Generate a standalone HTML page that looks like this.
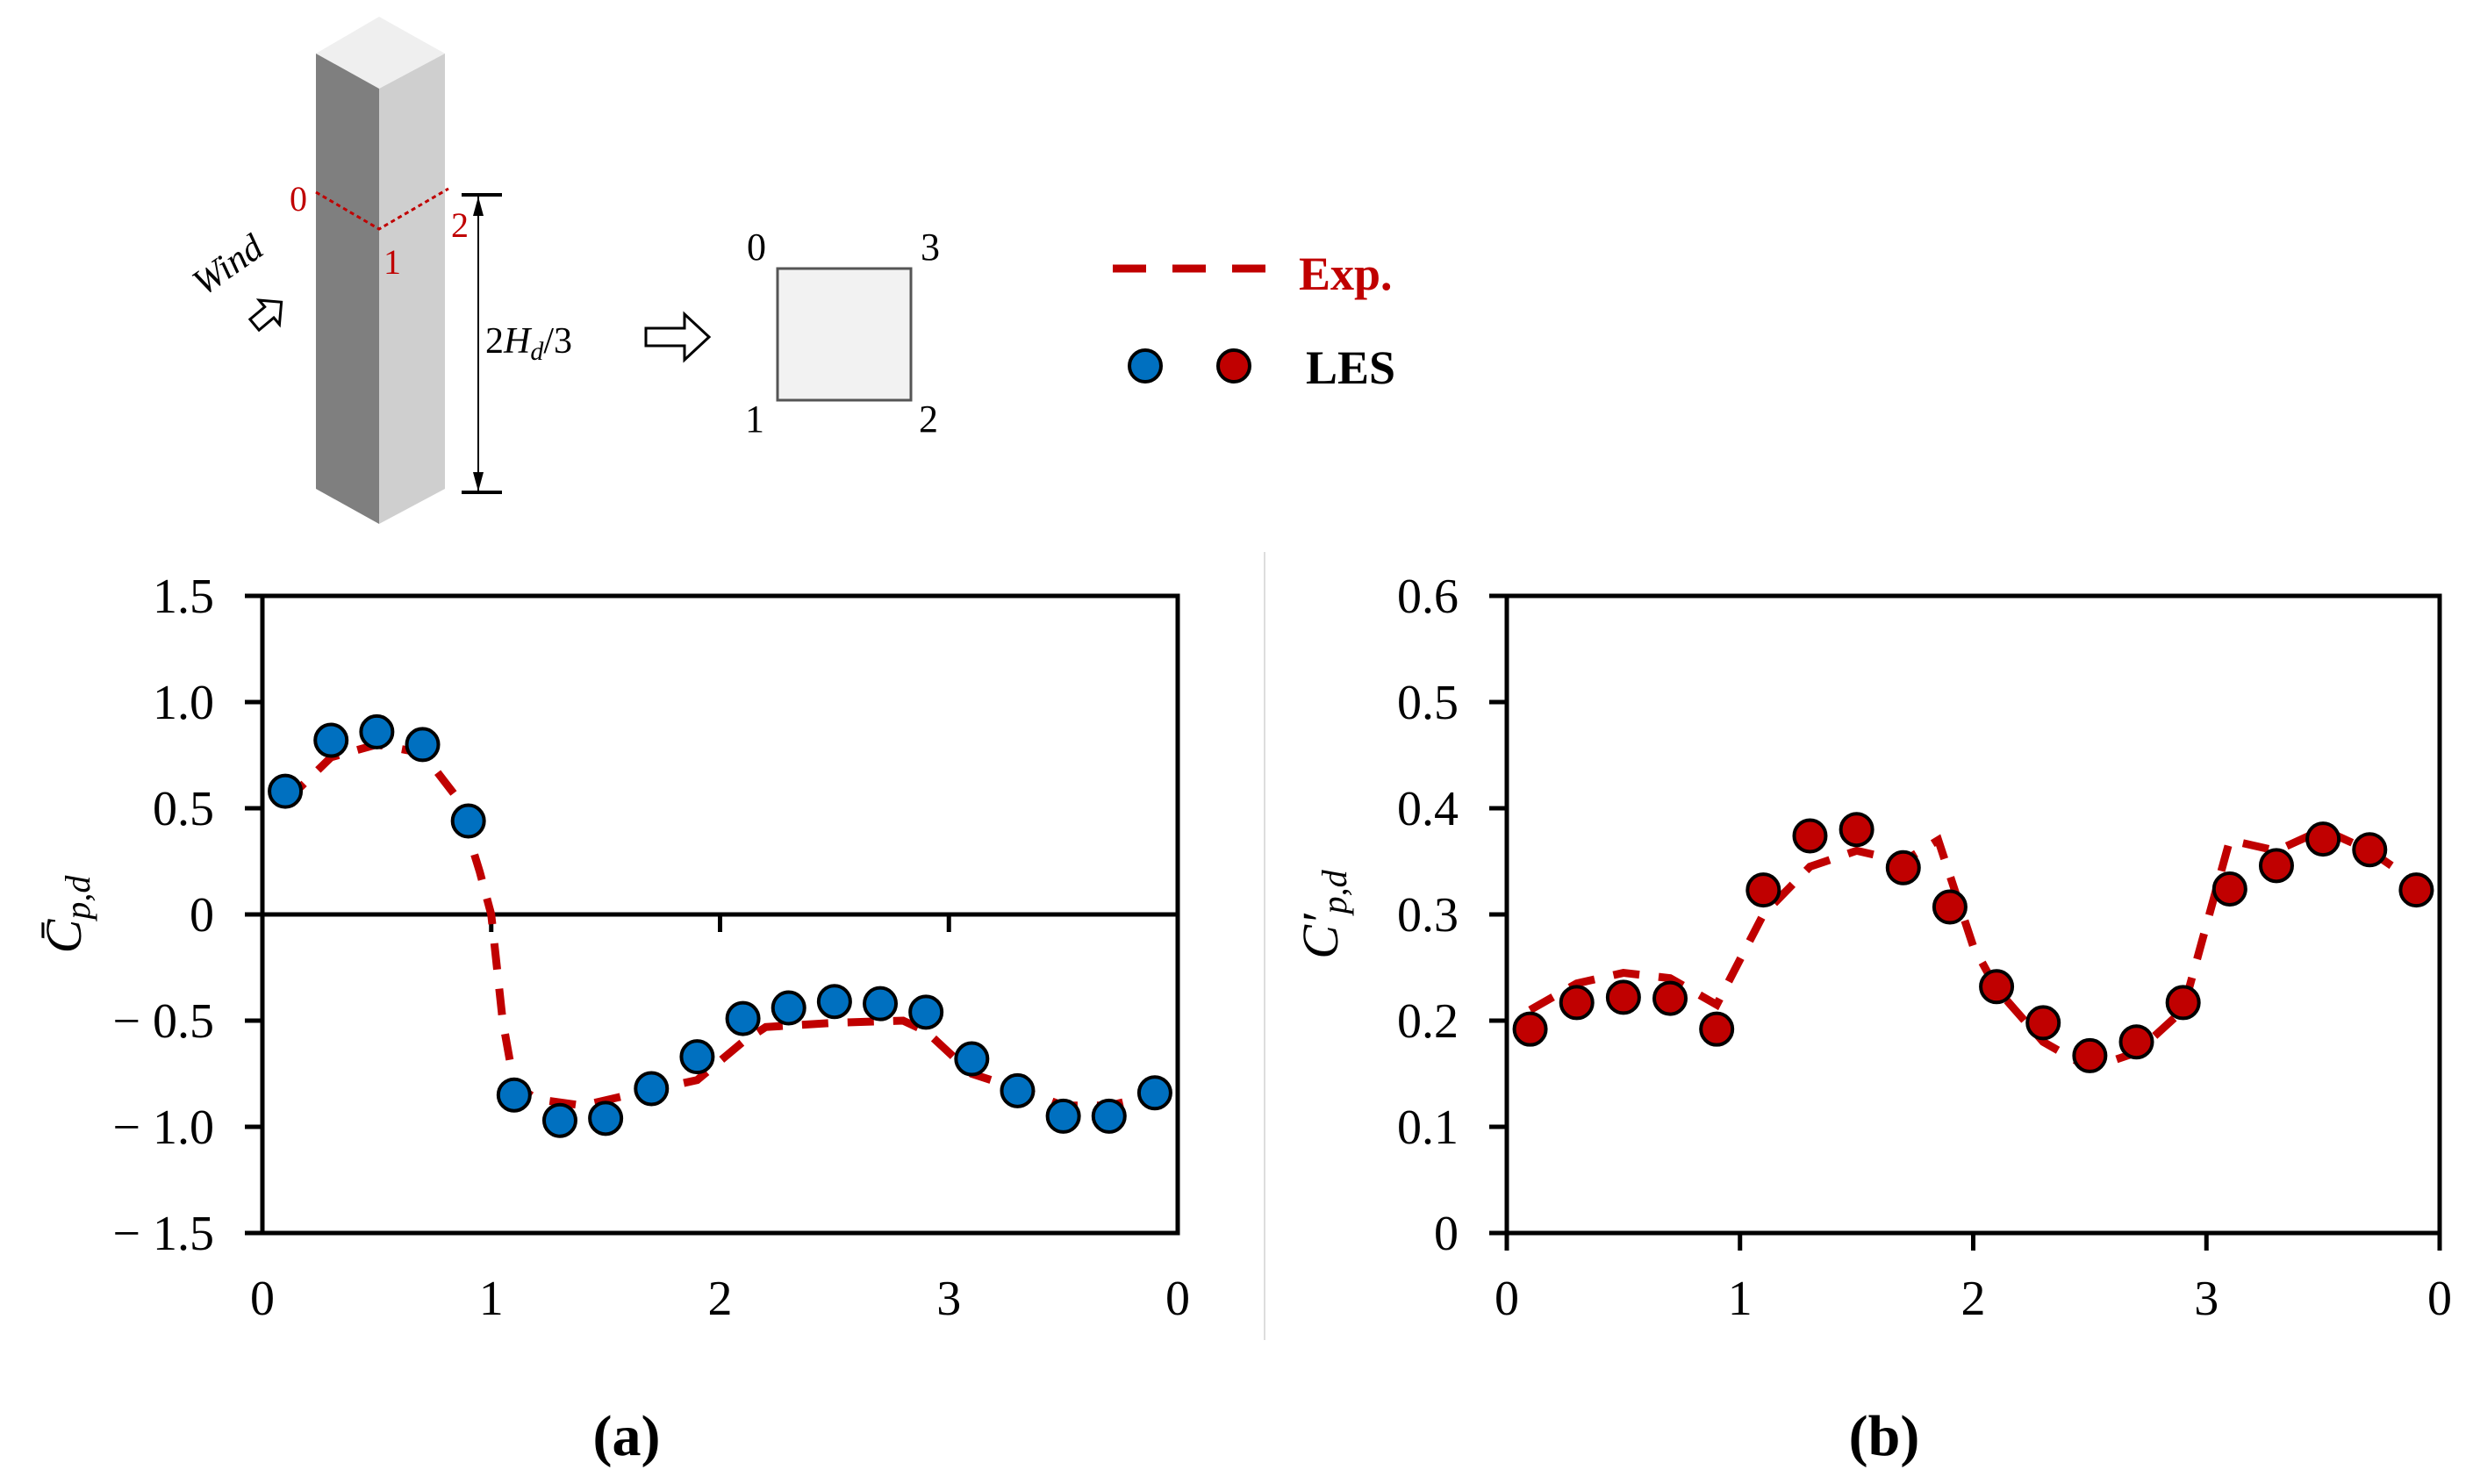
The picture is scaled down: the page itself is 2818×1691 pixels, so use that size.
<!DOCTYPE html>
<html><head><meta charset="utf-8"><style>
body{margin:0;background:#fff}
svg text{font-family:"Liberation Serif","Times New Roman",serif}
</style></head><body>
<svg id="s" width="2818" height="1686" viewBox="0 0 2818 1686" xmlns="http://www.w3.org/2000/svg" font-family="Liberation Serif, serif">
<g>
<polygon points="432,19 507,61 432,101 360,61" fill="#efefef"/>
<polygon points="360,61 432,101 432,597 360,557" fill="#7f7f7f"/>
<polygon points="432,101 507,61 507,557 432,597" fill="#cfcfcf"/>
<polyline points="360,219 432,261 511,215" fill="none" stroke="#c00000" stroke-width="3" stroke-dasharray="5,4"/>
<text x="340" y="240" font-size="40" fill="#c00000" text-anchor="middle">0</text>
<text x="447" y="312" font-size="40" fill="#c00000" text-anchor="middle">1</text>
<text x="524" y="270" font-size="40" fill="#c00000" text-anchor="middle">2</text>
<line x1="545" y1="224" x2="545" y2="560" stroke="#000" stroke-width="2"/>
<line x1="526" y1="222" x2="572" y2="222" stroke="#000" stroke-width="4"/>
<line x1="526" y1="561" x2="572" y2="561" stroke="#000" stroke-width="4"/>
<polygon points="545,224 539,246 551,246" fill="#000"/>
<polygon points="545,560 539,538 551,538" fill="#000"/>
<text x="553" y="402" font-size="42">2<tspan font-style="italic">H</tspan><tspan font-style="italic" font-size="30" dy="8">d</tspan><tspan dy="-8">/3</tspan></text>
<text x="0" y="0" font-size="42" font-style="italic" transform="translate(232,338) rotate(-35)">Wind</text>
<polygon points="0,-8 22,-8 22,-18 40,0 22,18 22,8 0,8" fill="#fff" stroke="#000" stroke-width="3" transform="translate(290,370) rotate(-40)"/>
<polygon points="0,-10 44,-10 44,-26 72,0 44,26 44,10 0,10" fill="#fff" stroke="#000" stroke-width="3" transform="translate(736,384)"/>
<rect x="886" y="306" width="152" height="150" fill="#f2f2f2" stroke="#555" stroke-width="3"/>
<text x="862" y="296" font-size="44" text-anchor="middle">0</text>
<text x="1060" y="296" font-size="44" text-anchor="middle">3</text>
<text x="860" y="492" font-size="44" text-anchor="middle">1</text>
<text x="1058" y="492" font-size="44" text-anchor="middle">2</text>
</g>
<g>
<line x1="1268" y1="306" x2="1445" y2="306" stroke="#c00000" stroke-width="9" stroke-dasharray="38,30"/>
<text x="1480" y="330" font-size="54" font-weight="bold" fill="#c00000">Exp.</text>
<circle cx="1305" cy="417" r="18" fill="#0070c0" stroke="#000" stroke-width="4"/>
<circle cx="1406" cy="417" r="18" fill="#c00000" stroke="#000" stroke-width="4"/>
<text x="1488" y="437" font-size="54" font-weight="bold">LES</text>
</g>
<line x1="1441" y1="629" x2="1441" y2="1527" stroke="#ddd" stroke-width="2"/>
<text x="714" y="1658" font-size="66" font-weight="bold" text-anchor="middle">(a)</text>
<text x="2147" y="1658" font-size="66" font-weight="bold" text-anchor="middle">(b)</text>
<g id="ca"></g><g id="cb"></g>
</svg>
<script>
const xLES = [0.1,0.3,0.5,0.7,0.9,1.1,1.3,1.5,1.7,1.9,2.1,2.3,2.5,2.7,2.9,3.1,3.3,3.5,3.7,3.9];
const meanLES = [0.58,0.82,0.86,0.80,0.44,-0.85,-0.97,-0.96,-0.82,-0.67,-0.49,-0.44,-0.41,-0.42,-0.46,-0.68,-0.83,-0.95,-0.95,-0.84];
const meanExpX = [0.1,0.3,0.5,0.7,0.85,0.95,1.0,1.05,1.1,1.2,1.4,1.6,1.9,2.1,2.2,2.5,2.8,2.9,3.1,3.3,3.5,3.7,3.9];
const meanExp = [0.53,0.74,0.8,0.76,0.55,0.2,0,-0.5,-0.8,-0.87,-0.9,-0.85,-0.78,-0.6,-0.53,-0.51,-0.5,-0.55,-0.75,-0.82,-0.9,-0.9,-0.85];
const rmsLES = [0.192,0.217,0.222,0.221,0.192,0.323,0.374,0.38,0.344,0.307,0.232,0.198,0.167,0.18,0.217,0.324,0.346,0.371,0.361,0.323];
const rmsExpX = [0.1,0.3,0.5,0.7,0.9,1.1,1.3,1.5,1.7,1.85,2.0,2.1,2.3,2.5,2.7,2.9,3.1,3.3,3.5,3.7,3.9];
const rmsExp = [0.21,0.235,0.245,0.24,0.215,0.3,0.345,0.36,0.35,0.37,0.27,0.23,0.18,0.155,0.17,0.21,0.37,0.36,0.38,0.36,0.33];
const xTicks = [0,1,2,3,4];
const xTickLabels = ['0','1','2','3','0'];
const yTicksA = [1.5,1.0,0.5,0,-0.5,-1.0,-1.5];
const yTickLabelsA = ['1.5','1.0','0.5','0','\u2212 0.5','\u2212 1.0','\u2212 1.5'];
const yTicksB = [0.6,0.5,0.4,0.3,0.2,0.1,0];
const yTickLabelsB = ['0.6','0.5','0.4','0.3','0.2','0.1','0'];
const NS='http://www.w3.org/2000/svg';
function mk(p,t,a){const e=document.createElementNS(NS,t);for(const k in a)e.setAttribute(k,a[k]);p.appendChild(e);return e;}
function chart(g,o){
  const sx=v=>o.x0+(v-0)/4*(o.x1-o.x0);
  const sy=v=>o.y1-(v-o.ymin)/(o.ymax-o.ymin)*(o.y1-o.y0);
  const fr=mk(g,'rect',{x:o.x0,y:o.y0,width:o.x1-o.x0,height:o.y1-o.y0,fill:'none',stroke:'#000','stroke-width':5});
  
  
  const ax=sy(o.xAxisAt);
  const xl=mk(g,'line',{x1:o.x0,y1:ax,x2:o.x1,y2:ax,stroke:'#000','stroke-width':5});
  
  
  o.yt.forEach((v,i)=>{
    const y=sy(v);
    mk(g,'line',{x1:o.x0-20,y1:y,x2:o.x0,y2:y,stroke:'#000','stroke-width':5});
    const t=mk(g,'text',{x:o.x0-55,y:y+19,'font-size':56,'text-anchor':'end'});
    t.textContent=o.yl[i];
    
    
  });
  xTicks.forEach((v,i)=>{
    const x=sx(v);
    mk(g,'line',{x1:x,y1:ax,x2:x,y2:ax+20,stroke:'#000','stroke-width':5});
    const t=mk(g,'text',{x:x,y:1498,'font-size':56,'text-anchor':'middle'});
    t.textContent=xTickLabels[i];
    
    
  });
  const pl=mk(g,'polyline',{points:o.ex.map((v,i)=>sx(v)+','+sy(o.ey[i])).join(' '),fill:'none',stroke:'#c00000','stroke-width':9,'stroke-dasharray':'30,22'});
  
  
  xLES.forEach((v,i)=>{
    const c=mk(g,'circle',{cx:sx(v),cy:sy(o.les[i]),r:18,fill:o.col,stroke:'#000','stroke-width':4});
    
    
  });
  const tt=mk(g,'text',{'font-size':58,'font-style':'italic',transform:'translate('+o.tx+',1042) rotate(-90)','text-anchor':'middle'});
  tt.innerHTML=o.title;
  
  
}
const ga=document.getElementById('ca');


chart(ga,{x0:299,x1:1342,y0:679,y1:1405,ymin:-1.5,ymax:1.5,xAxisAt:0,yt:yTicksA,yl:yTickLabelsA,ex:meanExpX,ey:meanExp,les:meanLES,col:'#0070c0',tx:92,title:'C\u0304<tspan font-size="40" dy="10">p,d</tspan>'});
const gb=document.getElementById('cb');


chart(gb,{x0:1717,x1:2780,y0:679,y1:1405,ymin:0,ymax:0.6,xAxisAt:0,yt:yTicksB,yl:yTickLabelsB,ex:rmsExpX,ey:rmsExp,les:rmsLES,col:'#c00000',tx:1524,title:'C\u2032<tspan font-size="40" dy="10">p,d</tspan>'});
</script>
</body></html>
